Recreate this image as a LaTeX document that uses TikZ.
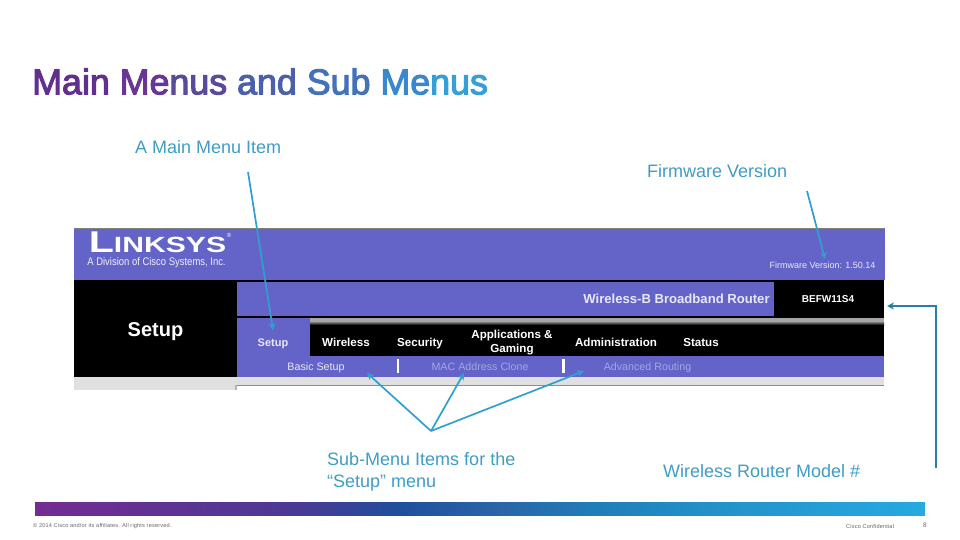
\documentclass[tikz,border=0pt]{standalone}
\usepackage{xcolor}
\usepackage{fontspec}
\setmainfont{Liberation Sans}
\usetikzlibrary{arrows.meta}
\definecolor{routerpurple}{HTML}{6464C8}
\definecolor{callout}{HTML}{2F9FD0}
\definecolor{labelblue}{HTML}{3F9CC4}
\definecolor{dimtext}{HTML}{A4A4E4}
\definecolor{barlight}{HTML}{E0E0E0}
\definecolor{titleA}{HTML}{622E90}
\definecolor{titleB}{HTML}{683796}
\definecolor{titleC}{HTML}{5A4A9E}
\definecolor{titleD}{HTML}{4A60A8}
\definecolor{titleE}{HTML}{4272BA}
\definecolor{titleF}{HTML}{3A88CC}
\definecolor{titleG}{HTML}{35A0D8}
\definecolor{footA}{HTML}{732C91}
\definecolor{footB}{HTML}{4A3A95}
\definecolor{footC}{HTML}{1F4F9C}
\definecolor{footD}{HTML}{2A65A8}
\definecolor{footE}{HTML}{1E7FB8}
\definecolor{footF}{HTML}{2390C8}
\definecolor{footG}{HTML}{27A9E1}
\pgfdeclarehorizontalshading{footbar}{100bp}{color(0bp)=(footA); color(25bp)=(footA); color(39.9bp)=(footB); color(45.5bp)=(footC); color(51.1bp)=(footD); color(56.7bp)=(footE); color(62.4bp)=(footF); color(75bp)=(footG); color(100bp)=(footG)}
\newcommand{\fsz}[1]{\fontsize{#1}{#1}\selectfont}
\begin{document}
\begin{tikzpicture}[
		x=1pt, y=-1pt,
		callarrow/.style={-{Stealth[length=7pt,width=7pt]}, draw=callout, line width=1.7pt},
		calllabel/.style={anchor=west, inner sep=0pt, text=labelblue, font=\fsz{18}, align=left},
		menuitem/.style={anchor=base, inner sep=8pt, text=white, font=\fsz{11.6}\bfseries, align=center},
		subitem/.style={anchor=base, inner sep=1pt, font=\fsz{10.7}},
		footnote/.style={anchor=west, inner sep=0pt, text=black!60, font=\fsz{5.6}},
		]
		\useasboundingbox (0,0) rectangle (960,540);
		
		%Title
		\node[anchor=west, inner sep=0pt, font=\fsz{35.8}\addfontfeature{FakeBold=3}] (title) at (32,81.5)
			{\textcolor{titleA}{Main} \textcolor{titleB}{Me}\textcolor{titleC}{nus} \textcolor{titleD}{and} \textcolor{titleE}{Sub} \textcolor{titleF}{Me}\textcolor{titleG}{nus}};
		
		%Router page
		\fill[barlight] (74,377) rectangle (884,385);
		\fill[barlight] (74,385) rectangle (237,390);
		\draw[black!45, line width=1pt] (237,385.5) -- (884,385.5);
		\fill[black!30] (235,385) rectangle (237,390);
		\fill[routerpurple] (74,229) rectangle (885,280);
		\draw[black!50, line width=1pt] (74,228.5) -- (885,228.5);
		\fill[black] (74,280) rectangle (884,377);
		\fill[routerpurple] (237,282) rectangle (774,316);
		\fill[routerpurple] (237,318) rectangle (310,356);
		\fill[black!35] (310,318) rectangle (884,321);
		\shade[top color=black!35, bottom color=black] (310,321) rectangle (884,325);
		\fill[routerpurple] (237,356) rectangle (884,377);
		\fill[white] (397,359) rectangle (399,373);
		\fill[white] (562,359) rectangle (565,373);
		
		%Page text
		\node[inner sep=0pt, text=white, font=\fsz{30}\bfseries, xscale=1.37, transform shape] (logo) at (157.5,242)
			{L{\fsz{22}INKSYS}};
		\node[inner sep=0pt, text=white, font=\fsz{6}] (regmark) at (229,235) {®};
		\node[inner sep=0pt, text=white!90!routerpurple, font=\fsz{11}, xscale=.86, transform shape] (division) at (156.5,262.5)
			{A Division of Cisco Systems, Inc.};
		\node[inner sep=0pt, text=white!85!routerpurple, font=\fsz{9}] (firmware) at (822.5,265)
			{Firmware Version: 1.50.14};
		\node[inner sep=0pt, text=white!85!routerpurple, font=\fsz{13.1}\bfseries] (product) at (676.5,298.5)
			{Wireless-B Broadband Router};
		\node[inner sep=0pt, text=white, font=\fsz{10}\bfseries] (model) at (828,299) {BEFW11S4};
		\node[inner sep=0pt, text=white, font=\fsz{20}\bfseries] (pagename) at (155.5,331.5) {Setup};
		
		\node[menuitem, text=white!85!routerpurple, font=\fsz{11}\bfseries] (setup) at (273,346) {Setup};
		\node[menuitem] (wireless) at (346,346) {Wireless};
		\node[menuitem] (security) at (420,346) {Security};
		\node[menuitem, anchor=center] (gaming) at (512,342.5) {Applications \&\\[1.5pt]Gaming};
		\node[menuitem] (admin) at (616,346) {Administration};
		\node[menuitem] (status) at (701,346) {Status};
		
		\node[subitem, text=white!85!routerpurple] (basic) at (316,370) {Basic Setup};
		\node[subitem, text=dimtext] (mac) at (480,370) {MAC Address Clone};
		\node[subitem, text=dimtext] (advanced) at (647.5,370) {Advanced Routing};
		
		%Labels
		\node[calllabel] (mainitem) at (135,147) {A Main Menu Item};
		\node[calllabel] (firmlabel) at (647,171) {Firmware Version};
		\node[calllabel] (sublabel) at (327,472) {Sub-Menu Items for the\\[4pt]“Setup” menu};
		\node[calllabel] (modellabel) at (663,471.5) {Wireless Router Model \#};
		
		%Free ends
		\coordinate (mainfrom) at (248,172);
		\coordinate (firmfrom) at (807,191);
		\coordinate (firmto) at (825,259);
		\coordinate (subfrom) at (431,431);
		\coordinate (basicto) at (367,373);
		\coordinate (macto) at (464,373);
		\coordinate (advancedto) at (584,371);
		\coordinate (modelfrom) at (936,468);
		\coordinate (modelbend) at (936,306);
		\coordinate (modelto) at (887,306);
		
		%Lines
		\draw[callarrow] (mainfrom) -- (setup.north);
		\draw[callarrow] (firmfrom) -- (firmto);
		\draw[callarrow] (subfrom) -- (basicto);
		\draw[callarrow] (subfrom) -- (macto);
		\draw[callarrow] (subfrom) -- (advancedto);
		\draw[callarrow, draw=callout!80!black, line width=1.2pt] (modelfrom) -- (modelbend) -- (modelto);
		
		%Footer
		\shade[shading=footbar] (35,502) rectangle (925,515);
		\node[footnote] (copyright) at (33,526) {\addfontfeature{LetterSpace=3}© 2014 Cisco and/or its affiliates. All rights reserved.};
		\node[footnote] (confidential) at (846,526) {\addfontfeature{LetterSpace=3}Cisco Confidential};
		\node[footnote, font=\fsz{6.5}] (pagenum) at (923,525) {8};
		
	\end{tikzpicture}
\end{document}
